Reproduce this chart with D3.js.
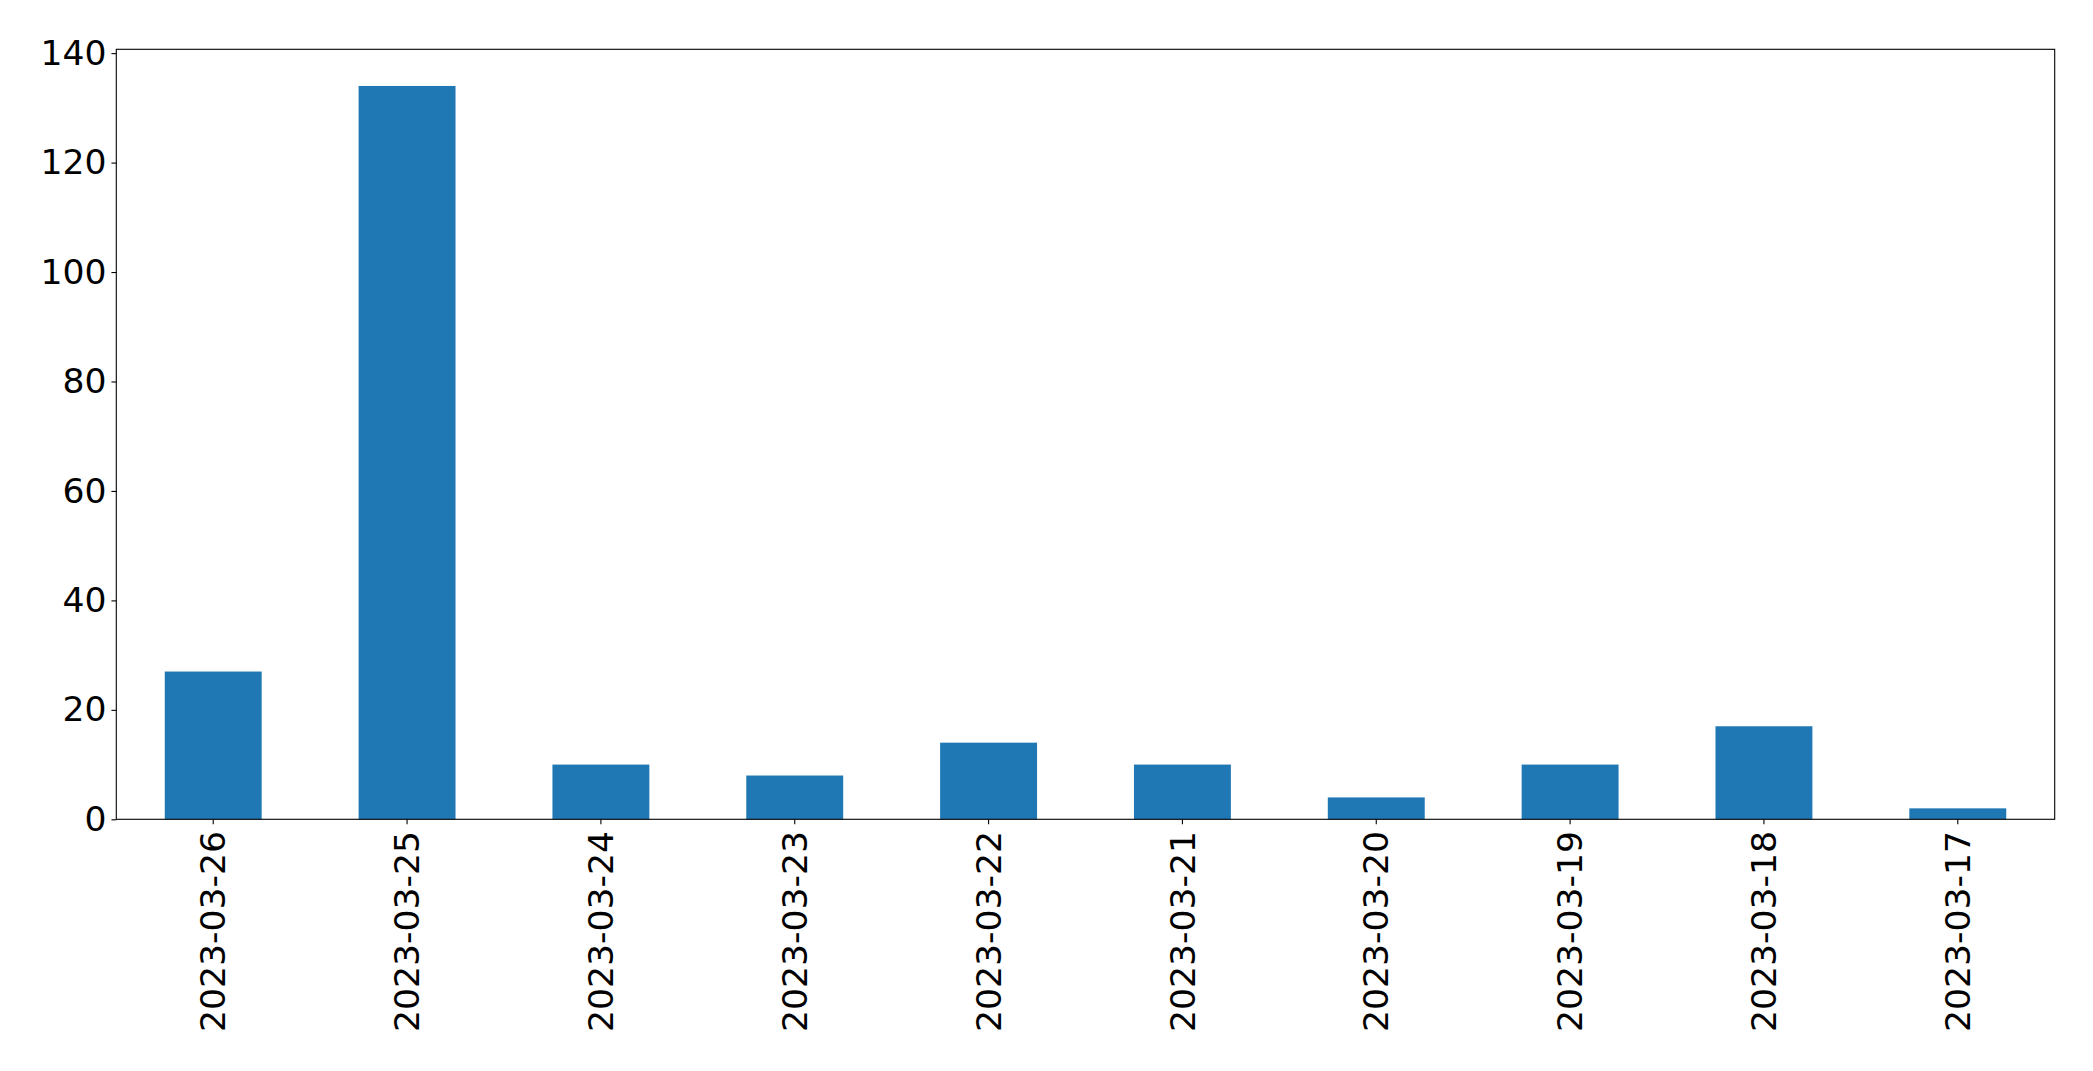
<!DOCTYPE html>
<html>
<head>
<meta charset="utf-8">
<script src="https://cdn.jsdelivr.net/npm/d3@7"></script>
<style>
  html, body { margin: 0; padding: 0; background: #fff; }
  svg { display: block; }
</style>
</head>
<body>
<svg id="chart" width="2093" height="1071"></svg>
<script>
const categories = ["2023-03-26","2023-03-25","2023-03-24","2023-03-23","2023-03-22","2023-03-21","2023-03-20","2023-03-19","2023-03-18","2023-03-17"];
const values = [27, 134, 10, 8, 14, 10, 4, 10, 17, 2];
const yTicks = [0, 20, 40, 60, 80, 100, 120, 140];

(function () {
  const plotLeft = 116.3, plotRight = 2054.7, plotTop = 49.3, plotBottom = 819.3;
  const fontSize = 34.6;
  const tickLen = 4.86, tickPad = 4.86;

  const svg = d3.select("#chart");

  const x = d3.scaleBand().domain(categories).range([plotLeft, plotRight]).paddingInner(0.5).paddingOuter(0.25);
  const y = d3.scaleLinear().domain([0, d3.max(values) * 1.05]).range([plotBottom, plotTop]);

  svg.append("g").selectAll("rect").data(categories.map((c, i) => ({c, v: values[i]})))
    .enter().append("rect")
    .attr("x", d => x(d.c))
    .attr("width", x.bandwidth())
    .attr("y", d => y(d.v))
    .attr("height", d => y(0) - y(d.v))
    .attr("fill", "#1f77b4");

  svg.append("rect")
    .attr("x", plotLeft).attr("y", plotTop)
    .attr("width", plotRight - plotLeft).attr("height", plotBottom - plotTop)
    .attr("fill", "none").attr("stroke", "#000").attr("stroke-width", 1.1);

  const yAxis = svg.append("g").attr("transform", `translate(${plotLeft},0)`)
    .call(d3.axisLeft(y).tickValues(yTicks).tickFormat(d3.format("d")).tickSize(tickLen).tickSizeOuter(0).tickPadding(tickPad));
  yAxis.select(".domain").remove();
  yAxis.selectAll("line").attr("stroke", "#000").attr("stroke-width", 1.1);
  yAxis.selectAll("text").attr("font-family", "DejaVu Sans").attr("font-size", fontSize).attr("fill", "#000");

  const xAxis = svg.append("g").attr("transform", `translate(0,${plotBottom})`)
    .call(d3.axisBottom(x).tickSize(tickLen).tickSizeOuter(0).tickPadding(tickPad));
  xAxis.select(".domain").remove();
  xAxis.selectAll("line").attr("stroke", "#000").attr("stroke-width", 1.1);
  xAxis.selectAll("text")
    .attr("font-family", "DejaVu Sans").attr("font-size", fontSize).attr("fill", "#000")
    .attr("text-anchor", "end")
    .attr("transform", "rotate(-90)")
    .attr("x", -(tickLen + tickPad + 2))
    .attr("y", 0)
    .attr("dy", "0.35em");
})();
</script>
</body>
</html>
